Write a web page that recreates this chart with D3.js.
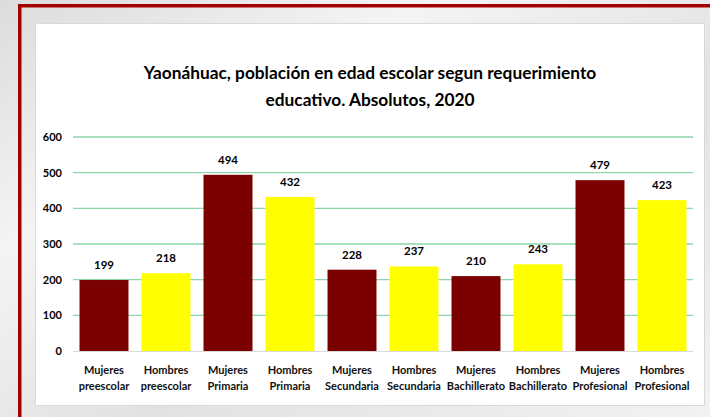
<!DOCTYPE html>
<html><head><meta charset="utf-8">
<script src="https://cdn.jsdelivr.net/npm/d3@7"></script>
<style>html,body{margin:0;padding:0;background:#ececec;}svg{display:block;}</style>
</head><body>
<script>
const categories = [["Mujeres","preescolar"],["Hombres","preescolar"],["Mujeres","Primaria"],["Hombres","Primaria"],["Mujeres","Secundaria"],["Hombres","Secundaria"],["Mujeres","Bachillerato"],["Hombres","Bachillerato"],["Mujeres","Profesional"],["Hombres","Profesional"]];
const values = [199, 218, 494, 432, 228, 237, 210, 243, 479, 423];
const barColors = ["#7b0000","#ffff00"];
const yTicks = [0,100,200,300,400,500,600];
const titleLines = ["Yaonáhuac, población en edad escolar segun requerimiento","educativo. Absolutos, 2020"];

const W=710,H=417;
const svg=d3.select("body").append("svg").attr("width",W).attr("height",H);
const defs=svg.append("defs");
const g1=defs.append("linearGradient").attr("id","bg").attr("x1","0").attr("y1","0").attr("x2","1").attr("y2","1");
g1.append("stop").attr("offset","0").attr("stop-color","#dcdcdc");
g1.append("stop").attr("offset","0.3").attr("stop-color","#f4f4f4");
g1.append("stop").attr("offset","0.6").attr("stop-color","#e2e2e2");
g1.append("stop").attr("offset","1").attr("stop-color","#f2f2f2");
svg.append("rect").attr("width",W).attr("height",H).attr("fill","url(#bg)");
// red frame
svg.append("rect").attr("x",18).attr("y",4).attr("width",W-18).attr("height",3.5).attr("fill","#a30000");
svg.append("rect").attr("x",18).attr("y",4).attr("width",3.5).attr("height",H-4).attr("fill","#a30000");
// chart box
svg.append("rect").attr("x",35.5).attr("y",23.5).attr("width",669).attr("height",382).attr("fill","#fff").attr("stroke","#d9d9d9").attr("stroke-width",1);

const font="Lato, 'Open Sans', sans-serif";
const x=d3.scaleBand().domain(d3.range(values.length)).range([73,693]).paddingInner(0.21).paddingOuter(0.105);
const y=d3.scaleLinear().domain([0,600]).range([351,137]);

// grid
svg.append("g").selectAll("line").data(yTicks.filter(d=>d>0)).join("line")
 .attr("x1",73).attr("x2",693).attr("y1",d=>y(d)).attr("y2",d=>y(d))
 .attr("stroke","#8fd6a9").attr("stroke-width",1.3);
// y axis labels
const yAxis=d3.axisLeft(y).tickValues(yTicks).tickSize(0).tickPadding(11);
const ya=svg.append("g").attr("transform","translate(73,0)").call(yAxis);
ya.select(".domain").remove();
ya.selectAll("text").attr("font-family",font).attr("font-weight","bold").attr("font-size",11).attr("fill","#000");

// bars
svg.append("g").selectAll("rect").data(values).join("rect")
 .attr("x",(d,i)=>x(i)).attr("width",x.bandwidth())
 .attr("y",d=>y(d)).attr("height",d=>y(0)-y(d))
 .attr("fill",(d,i)=>barColors[i%2]);
// baseline
svg.append("line").attr("x1",73).attr("x2",693).attr("y1",y(0)+0.5).attr("y2",y(0)+0.5).attr("stroke","#d9d9d9").attr("stroke-width",1);

// value labels
svg.append("g").selectAll("text").data(values).join("text")
 .attr("x",(d,i)=>x(i)+x.bandwidth()/2).attr("y",d=>y(d)-11)
 .attr("text-anchor","middle").attr("font-family",font).attr("font-weight","bold").attr("font-size",11.5)
 .attr("fill","#000").text(d=>d);

// x labels
const xl=svg.append("g").selectAll("text").data(categories).join("text")
 .attr("text-anchor","middle").attr("font-family",font).attr("font-weight","bold").attr("font-size",11).attr("fill","#111");
xl.each(function(d,i){
  const t=d3.select(this);
  d.forEach((s,j)=>t.append("tspan").attr("x",x(i)+x.bandwidth()/2).attr("y",374+j*15.5).text(s));
});

// title
svg.append("g").selectAll("text").data(titleLines).join("text")
 .attr("x",370).attr("y",(d,i)=>79+i*27).attr("text-anchor","middle")
 .attr("font-family",font).attr("font-weight","bold").attr("font-size",17.3).attr("fill","#000").text(d=>d);
</script>
</body></html>
